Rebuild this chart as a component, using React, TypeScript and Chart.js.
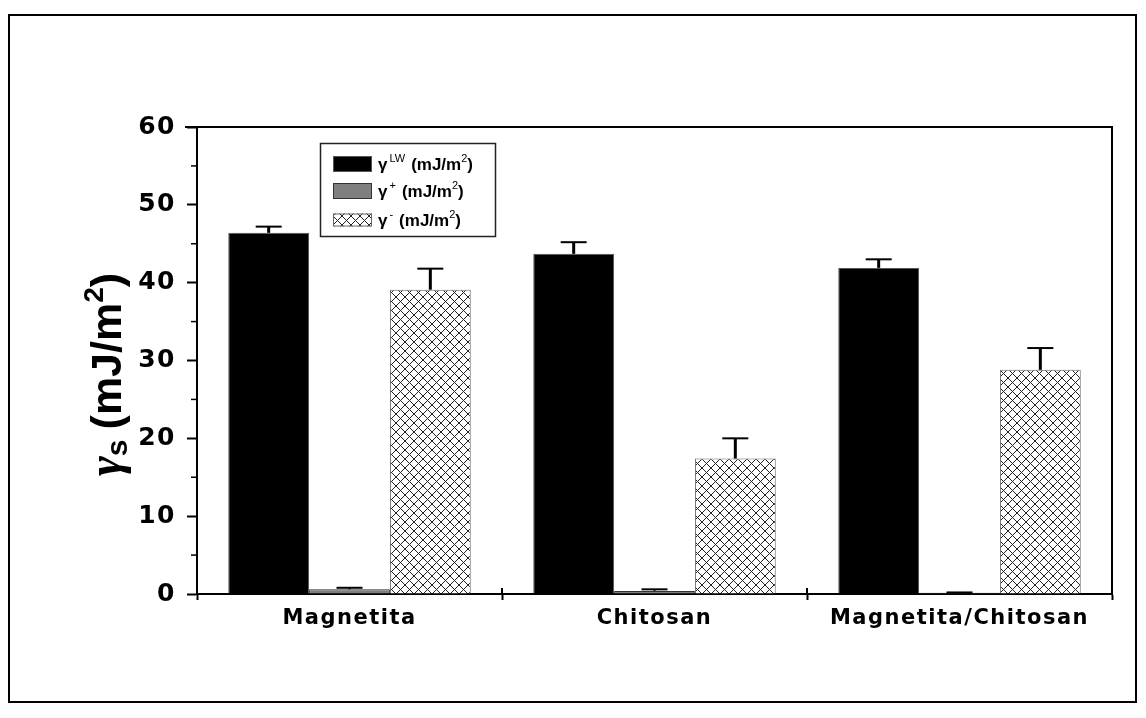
import React, { useEffect, useRef } from 'react';
import { Chart, registerables } from 'chart.js';

Chart.register(...registerables);

const categories = ['Magnetita', 'Chitosan', 'Magnetita/Chitosan'];
const gammaLW = [46.4, 43.7, 41.9];
const gammaLWErr = [0.8, 1.5, 1.1];
const gammaPlus = [0.6, 0.4, 0.15];
const gammaPlusErr = [0.2, 0.2, 0.05];
const gammaMinus = [39.1, 17.4, 28.8];
const gammaMinusErr = [2.7, 2.6, 2.8];
const yMin = 0;
const yMax = 60;
const yStep = 10;
const legendSups = ['LW', '+', '-'];

function makeHatch(ctx: CanvasRenderingContext2D) {
  const s = 9;
  const c = document.createElement('canvas');
  c.width = s;
  c.height = s;
  const g = c.getContext('2d')!;
  g.fillStyle = '#ffffff';
  g.fillRect(0, 0, s, s);
  g.strokeStyle = '#222222';
  g.lineWidth = 1;
  g.beginPath();
  g.moveTo(0, 0);
  g.lineTo(s, s);
  g.moveTo(s, 0);
  g.lineTo(0, s);
  g.stroke();
  return ctx.createPattern(c, 'repeat')!;
}

const spacingPlugin = {
  id: 'spacing',
  beforeDraw(chart: any) {
    (chart.ctx as any).letterSpacing = '1.5px';
  },
  afterDraw(chart: any) {
    (chart.ctx as any).letterSpacing = '0px';
  },
};

const errorBarsPlugin = {
  id: 'errorBars',
  afterDatasetsDraw(chart: any) {
    const ctx: CanvasRenderingContext2D = chart.ctx;
    const y = chart.scales.y;
    chart.data.datasets.forEach((ds: any, di: number) => {
      const meta = chart.getDatasetMeta(di);
      meta.data.forEach((el: any, i: number) => {
        const v = ds.data[i];
        const top = y.getPixelForValue(v + ds.errors[i]);
        ctx.save();
        ctx.strokeStyle = '#000';
        ctx.lineWidth = di === 1 ? 2 : 3;
        ctx.beginPath();
        ctx.moveTo(el.x, el.y);
        ctx.lineTo(el.x, top);
        ctx.stroke();
        ctx.lineWidth = 2;
        ctx.beginPath();
        ctx.moveTo(el.x - 13, top);
        ctx.lineTo(el.x + 13, top);
        ctx.stroke();
        ctx.restore();
      });
    });
  },
};

const framePlugin = {
  id: 'frame',
  afterDraw(chart: any) {
    const ctx: CanvasRenderingContext2D = chart.ctx;
    const a = chart.chartArea;
    const y = chart.scales.y;
    const x = chart.scales.x;
    ctx.save();
    ctx.strokeStyle = '#000';
    ctx.lineWidth = 2;
    ctx.beginPath();
    ctx.moveTo(a.left - 12, a.top);
    ctx.lineTo(a.right, a.top);
    ctx.lineTo(a.right, a.bottom);
    ctx.stroke();
    ctx.lineWidth = 1.5;
    for (let v = yMin + yStep / 2; v < yMax; v += yStep) {
      const py = y.getPixelForValue(v);
      ctx.beginPath();
      ctx.moveTo(a.left - 6, py);
      ctx.lineTo(a.left, py);
      ctx.stroke();
    }
    ctx.lineWidth = 2;
    const n = categories.length;
    for (let i = 0; i <= n; i++) {
      const px = x.getPixelForValue(i - 0.5);
      ctx.beginPath();
      ctx.moveTo(px, a.bottom);
      ctx.lineTo(px, a.bottom - 6);
      ctx.stroke();
    }
    ctx.restore();
  },
};

function drawRich(
  ctx: CanvasRenderingContext2D,
  parts: { t: string; font: string; dy: number; gap?: number }[],
  x: number,
  y: number,
  center: boolean
) {
  let total = 0;
  for (const p of parts) {
    ctx.font = p.font;
    total += ctx.measureText(p.t).width + (p.gap || 0);
  }
  let cx = center ? x - total / 2 : x;
  for (const p of parts) {
    ctx.font = p.font;
    ctx.fillText(p.t, cx, y + p.dy);
    cx += ctx.measureText(p.t).width + (p.gap || 0);
  }
}

const yTitlePlugin = {
  id: 'yTitle',
  afterDraw(chart: any) {
    const ctx: CanvasRenderingContext2D = chart.ctx;
    const a = chart.chartArea;
    ctx.save();
    (ctx as any).letterSpacing = '0px';
    ctx.fillStyle = '#000';
    ctx.textBaseline = 'alphabetic';
    ctx.textAlign = 'left';
    ctx.translate(a.left - 76, (a.top + a.bottom) / 2 + 14);
    ctx.rotate(-Math.PI / 2);
    const F = '"Liberation Sans", Arial, sans-serif';
    drawRich(
      ctx,
      [
        { t: 'γ', font: `italic bold 48px "Liberation Serif", serif`, dy: 0 },
        { t: 's', font: `bold 30px ${F}`, dy: 6, gap: 10 },
        { t: '(mJ/m', font: `bold 43px ${F}`, dy: 0 },
        { t: '2', font: `bold 28px ${F}`, dy: -18 },
        { t: ')', font: `bold 43px ${F}`, dy: 0 },
      ],
      0,
      0,
      true
    );
    ctx.restore();
  },
};

const legendPlugin = {
  id: 'customLegend',
  afterDraw(chart: any) {
    const ctx: CanvasRenderingContext2D = chart.ctx;
    const a = chart.chartArea;
    const bx = a.left + 123;
    const by = a.top + 16;
    const bw = 175;
    const bh = 93;
    ctx.save();
    (ctx as any).letterSpacing = '0px';
    ctx.fillStyle = '#fff';
    ctx.fillRect(bx, by, bw, bh);
    ctx.strokeStyle = '#222';
    ctx.lineWidth = 1.5;
    ctx.strokeRect(bx + 0.5, by + 0.5, bw, bh);
    const rows = [
      { cy: 21, h: 16 },
      { cy: 48, h: 16 },
      { cy: 77, h: 13 },
    ];
    const F = '"Liberation Sans", Arial, sans-serif';
    chart.data.datasets.forEach((ds: any, i: number) => {
      const r = rows[i];
      const sx = bx + 13;
      const sy = by + r.cy - r.h / 2;
      ctx.fillStyle = ds.backgroundColor;
      ctx.fillRect(sx, sy, 39, r.h);
      ctx.strokeStyle = ds.borderColor;
      ctx.lineWidth = 1;
      ctx.strokeRect(sx + 0.5, sy + 0.5, 38, r.h - 1);
      ctx.fillStyle = '#000';
      ctx.textBaseline = 'alphabetic';
      drawRich(
        ctx,
        [
          { t: 'γ', font: `bold 17px ${F}`, dy: 0, gap: 2 },
          { t: legendSups[i], font: `11px ${F}`, dy: -8, gap: 6 },
          { t: '(mJ/m', font: `bold 17px ${F}`, dy: 0 },
          { t: '2', font: `11px ${F}`, dy: -8 },
          { t: ')', font: `bold 17px ${F}`, dy: 0 },
        ],
        bx + 58,
        by + r.cy + 6,
        false
      );
    });
    ctx.restore();
  },
};

export default function App() {
  const ref = useRef<HTMLCanvasElement>(null);

  useEffect(() => {
    const canvas = ref.current!;
    const ctx = canvas.getContext('2d')!;
    const hatch = makeHatch(ctx);
    const chart = new Chart(canvas, {
      type: 'bar',
      data: {
        labels: categories,
        datasets: [
          {
            label: 'γLW (mJ/m²)',
            data: gammaLW,
            errors: gammaLWErr,
            backgroundColor: '#000000',
            borderColor: '#555555',
            borderWidth: 1,
          } as any,
          {
            label: 'γ+ (mJ/m²)',
            data: gammaPlus,
            errors: gammaPlusErr,
            backgroundColor: '#7f7f7f',
            borderColor: '#333333',
            borderWidth: 1,
          } as any,
          {
            label: 'γ- (mJ/m²)',
            data: gammaMinus,
            errors: gammaMinusErr,
            backgroundColor: hatch,
            borderColor: '#666666',
            borderWidth: 1,
          } as any,
        ],
      },
      options: {
        responsive: false,
        animation: false,
        events: [],
        layout: { padding: { top: 127, right: 34, left: 0, bottom: 0 } },
        datasets: {
          bar: { categoryPercentage: 0.795, barPercentage: 1.0 },
        },
        plugins: {
          legend: { display: false },
          tooltip: { enabled: false },
          title: { display: false },
        },
        scales: {
          x: {
            offset: true,
            grid: {
              offset: true,
              drawOnChartArea: false,
              drawTicks: true,
              tickLength: 6,
              tickColor: '#000',
              tickWidth: 2,
            },
            border: { display: true, color: '#000', width: 2 },
            ticks: {
              color: '#000',
              font: { family: '"DejaVu Sans", sans-serif', weight: 'bold', size: 21 },
              padding: 6,
              maxRotation: 0,
              autoSkip: false,
            },
            afterFit(scale: any) {
              scale.height = 124;
            },
          },
          y: {
            min: yMin,
            max: yMax,
            grid: {
              drawOnChartArea: false,
              drawTicks: true,
              tickLength: 10,
              tickColor: '#000',
              tickWidth: 2,
            },
            border: { display: true, color: '#000', width: 2 },
            ticks: {
              stepSize: yStep,
              color: '#000',
              font: { family: '"DejaVu Sans", sans-serif', weight: 'bold', size: 25 },
              padding: 11,
            },
            afterFit(scale: any) {
              scale.width = 197;
            },
          },
        },
      } as any,
      plugins: [spacingPlugin, errorBarsPlugin, framePlugin, yTitlePlugin, legendPlugin],
    });
    return () => chart.destroy();
  }, []);

  return (
    <div style={{ position: 'absolute', left: 0, top: 0, width: 1146, height: 718, background: '#fff' }}>
      <div
        style={{
          position: 'absolute',
          left: 8,
          top: 14,
          width: 1129,
          height: 689,
          border: '2px solid #000',
          boxSizing: 'border-box',
        }}
      />
      <canvas
        ref={ref}
        width={1146}
        height={718}
        style={{ position: 'absolute', left: 0, top: 0, width: 1146, height: 718 }}
      />
    </div>
  );
}
